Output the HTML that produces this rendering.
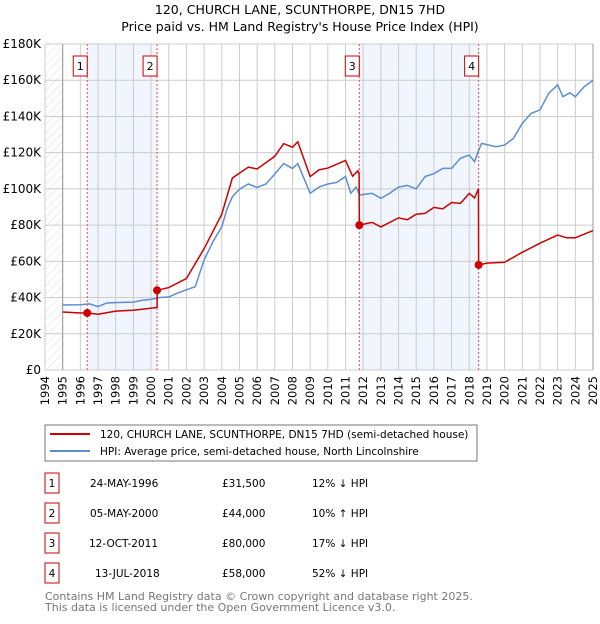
<!DOCTYPE html>
<html><head><meta charset="utf-8"><style>
body{margin:0;background:#fff;width:600px;height:620px;overflow:hidden;font-family:"DejaVu Sans","Liberation Sans",sans-serif}
svg text{font-family:"DejaVu Sans","Liberation Sans",sans-serif}
</style></head><body>
<svg id="chart" width="600" height="620" xmlns="http://www.w3.org/2000/svg">
<defs><pattern id="hatch" width="6" height="6" patternUnits="userSpaceOnUse" patternTransform="rotate(45)"><line x1="0" y1="0" x2="0" y2="6" stroke="#ddd" stroke-width="1"/></pattern></defs>
<text x="300" y="14" text-anchor="middle" font-size="12.5">120, CHURCH LANE, SCUNTHORPE, DN15 7HD</text>
<text x="300" y="31" text-anchor="middle" font-size="12.5">Price paid vs. HM Land Registry's House Price Index (HPI)</text>
<g id="plot"></g>
<rect x="45" y="425" width="432" height="36" fill="#fff" stroke="#777"/>
<line x1="50" y1="434" x2="90" y2="434" stroke="#cc0000" stroke-width="2"/>
<text x="100" y="438" font-size="10.5">120, CHURCH LANE, SCUNTHORPE, DN15 7HD (semi-detached house)</text>
<line x1="50" y1="451" x2="90" y2="451" stroke="#5b8fd0" stroke-width="2"/>
<text x="100" y="455" font-size="10.5">HPI: Average price, semi-detached house, North Lincolnshire</text>
<g id="table" font-size="10.5"></g>
<text x="45" y="600" font-size="11" fill="#777">Contains HM Land Registry data © Crown copyright and database right 2025.</text>
<text x="45" y="611" font-size="11" fill="#777">This data is licensed under the Open Government Licence v3.0.</text>
</svg>
<script>
const hpiYears=[1995,1996,1996.5,1997,1997.5,1998,1999,1999.5,2000,2000.5,2001,2001.5,2002,2002.5,2003,2003.5,2004,2004.3,2004.6,2005,2005.5,2006,2006.5,2007,2007.5,2008,2008.3,2009,2009.5,2010,2010.5,2011,2011.3,2011.6,2011.8,2012.5,2013,2013.5,2014,2014.5,2015,2015.5,2016,2016.5,2017,2017.5,2018,2018.3,2018.5,2018.7,2019.5,2020,2020.5,2021,2021.5,2022,2022.5,2023,2023.3,2023.7,2024,2024.5,2025];
const hpiValues=[35.9,36,36.5,35,37,37.2,37.5,38.5,39,40,40.3,42.5,44.3,46,60.7,70.9,79,89,95.7,99.8,102.7,100.8,102.7,108.2,114,111.3,114,97.6,101,102.7,103.6,106.8,97.6,101,96.6,97.6,94.8,97.6,101,101.9,100,106.8,108.4,111.3,111.3,116.9,118.7,115,120.5,125.1,123.3,124.2,127.9,136.2,141.7,143.6,152.8,157.4,150.9,153.1,150.9,156.4,160];
const redYears=[1995,1996,1996.4,1997,1998,1999,2000.34,2000.35,2001,2002,2003,2004,2004.6,2005.5,2006,2007,2007.5,2008,2008.3,2009,2009.5,2010,2011,2011.4,2011.7,2011.77,2011.78,2012.5,2013,2014,2014.5,2015,2015.5,2016,2016.5,2017,2017.5,2018,2018.3,2018.52,2018.53,2019,2020,2021,2022,2023,2023.5,2024,2024.5,2025];
const redValues=[32,31.5,31.5,30.8,32.5,33,34.5,44,45.5,50.5,67,86,106,112,111,118,125,123,126,106.8,110.5,111.5,115.7,107,110,108,80,81.5,79,84,83,86,86.5,89.8,89,92.5,92,97.5,95,100,58,59,59.5,65,70,74.5,73,73,75,77];
const saleLabels=["1","2","3","4"];
const saleYears=[1996.39,2000.34,2011.78,2018.53];
const salePrices=[31.5,44,80,58];
const saleDates=["24-MAY-1996","05-MAY-2000","12-OCT-2011","13-JUL-2018"];
const salePriceText=["£31,500","£44,000","£80,000","£58,000"];
const saleHpiText=["12% ↓ HPI","10% ↑ HPI","17% ↓ HPI","52% ↓ HPI"];
const yTicks=[0,20,40,60,80,100,120,140,160,180];
const yTickLabels=["£0","£20K","£40K","£60K","£80K","£100K","£120K","£140K","£160K","£180K"];
const xTicks=[1994,1995,1996,1997,1998,1999,2000,2001,2002,2003,2004,2005,2006,2007,2008,2009,2010,2011,2012,2013,2014,2015,2016,2017,2018,2019,2020,2021,2022,2023,2024,2025];

const NS="http://www.w3.org/2000/svg";
const X0=45,X1=593,Y0=370,Y1=44;
const xs=y=>X0+(y-1994)/(2025-1994)*(X1-X0);
const ys=v=>Y0-v/180*(Y0-Y1);
const plot=document.getElementById('plot');
function mk(tag,attrs,parent){const e=document.createElementNS(NS,tag);for(const k in attrs)e.setAttribute(k,attrs[k]);(parent||plot).appendChild(e);return e;}
mk('rect',{x:X0,y:Y1,width:X1-X0+2,height:Y0-Y1,fill:'#fff'});
let r=mk('rect',{x:X0,y:Y1,width:xs(1995)-X0,height:Y0-Y1,fill:'url(#hatch)'});


for(let i=0;i<4;i+=2){
  const s=mk('rect',{x:xs(saleYears[i]),y:Y1,width:xs(saleYears[i+1])-xs(saleYears[i]),height:Y0-Y1,fill:'#eef3fc',opacity:0.8});
  
  
}
xTicks.forEach(t=>{
  mk('line',{x1:xs(t),x2:xs(t),y1:Y1,y2:Y0,stroke:'#ccc'});
  const tx=mk('text',{x:0,y:0,'font-size':11.5,'text-anchor':'end',transform:`translate(${xs(t)+4},${Y0+6}) rotate(-90)`});
  tx.textContent=t;
  
  
});
yTicks.forEach((t,i)=>{
  mk('line',{x1:X0,x2:X1,y1:ys(t),y2:ys(t),stroke:'#ccc'});
  const tx=mk('text',{x:X0-4,y:ys(t)+4,'font-size':12,'text-anchor':'end'});
  tx.textContent=yTickLabels[i];
  
  
});
mk('line',{x1:xs(1995),x2:xs(1995),y1:Y1,y2:Y0,stroke:'#999'});
mk('line',{x1:X1,x2:X1,y1:Y1,y2:Y0,stroke:'#999'});
saleYears.forEach((y,i)=>{
  const l=mk('line',{x1:xs(y),x2:xs(y),y1:Y1,y2:Y0,stroke:'#e05050','stroke-dasharray':'2,2','stroke-width':1});
  
  
  const bx=mk('rect',{x:xs(y)-14,y:56,width:14,height:20,fill:'#fff',stroke:'#cc0000'});
  
  
  const t=mk('text',{x:xs(y)-7,y:70,'font-size':11,'text-anchor':'middle'});
  t.textContent=saleLabels[i];
  
  
});
const hp=mk('polyline',{points:hpiYears.map((y,i)=>xs(y)+','+ys(hpiValues[i])).join(' '),fill:'none',stroke:'#5b8fd0','stroke-width':1.5});


const rp=mk('polyline',{points:redYears.map((y,i)=>xs(y)+','+ys(redValues[i])).join(' '),fill:'none',stroke:'#cc0000','stroke-width':1.5});


saleYears.forEach((y,i)=>{
  const c=mk('circle',{cx:xs(y),cy:ys(salePrices[i]),r:4,fill:'#cc0000'});
  
  
});
const tb=document.getElementById('table');
saleLabels.forEach((l,i)=>{
  const cy=483+i*30;
  const b=mk('rect',{x:45,y:cy-10,width:14,height:20,fill:'#fff',stroke:'#cc0000'},tb);
  
  
  const cells=[[52,l,'middle'],[90+(i==3?5:(i==2?-1:0)),saleDates[i],'start'],[222,salePriceText[i],'start'],[312,saleHpiText[i],'start']];
  cells.forEach(c=>{
    const t=mk('text',{x:c[0],y:cy+4,'text-anchor':c[2]},tb);
    t.textContent=c[1];
    
    
  });
});
</script>
</body></html>
